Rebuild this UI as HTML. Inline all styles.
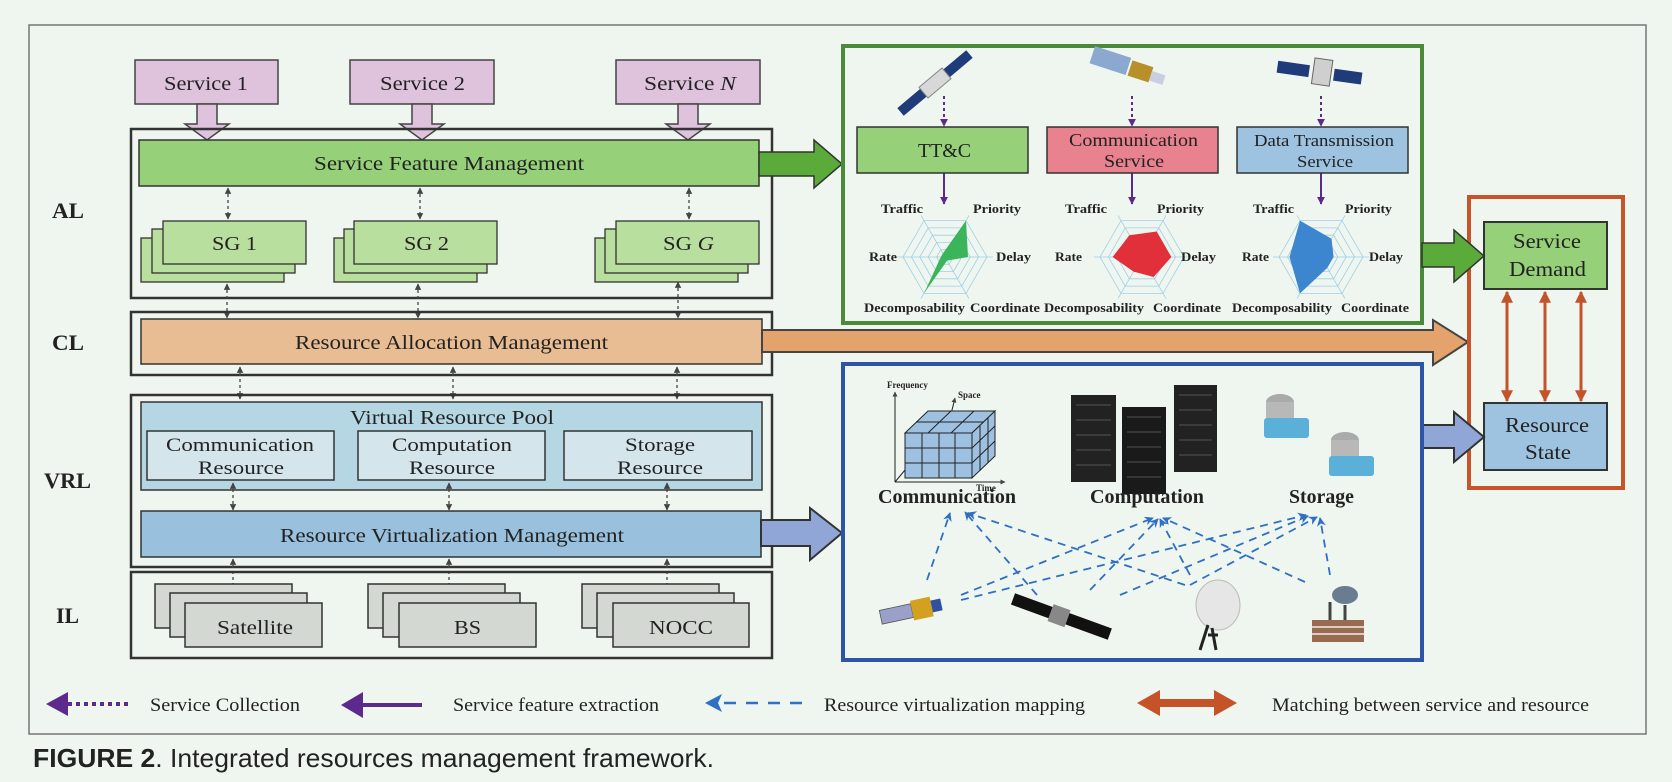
<!DOCTYPE html>
<html><head><meta charset="utf-8"><style>
html,body{margin:0;padding:0;background:#eff6ef;}
svg{display:block;}
text{font-family:"Liberation Serif",serif;fill:#222;}
.b{font-weight:bold;}
</style></head><body>
<svg width="1672" height="782" viewBox="0 0 1672 782" xmlns="http://www.w3.org/2000/svg">
<defs>
<marker id="dg" viewBox="0 0 10 10" refX="9" refY="5" markerWidth="5" markerHeight="5" orient="auto-start-reverse"><path d="M0,0L10,5L0,10z" fill="#444"/></marker>
<marker id="pu" viewBox="0 0 10 10" refX="9" refY="5" markerWidth="4" markerHeight="4" orient="auto"><path d="M0,0L10,5L0,10z" fill="#5b2a8c"/></marker>
<marker id="bl" viewBox="0 0 10 10" refX="9" refY="5" markerWidth="5" markerHeight="5" orient="auto"><path d="M0,0L10,5L0,10L3,5z" fill="#2f6fc4"/></marker>
<marker id="or" viewBox="0 0 10 10" refX="9" refY="5" markerWidth="4" markerHeight="5" orient="auto-start-reverse"><path d="M0,0L10,5L0,10z" fill="#c4532a"/></marker>
</defs>
<rect x="0" y="0" width="1672" height="782" fill="#eff6ef"/>
<rect x="29" y="25" width="1617" height="709" fill="none" stroke="#777" stroke-width="1.5"/>

<!-- layer labels -->
<text class="b" x="52" y="218" font-size="22" textLength="32" lengthAdjust="spacingAndGlyphs">AL</text>
<text class="b" x="52" y="350" font-size="22" textLength="32" lengthAdjust="spacingAndGlyphs">CL</text>
<text class="b" x="44" y="488" font-size="22" textLength="47" lengthAdjust="spacingAndGlyphs">VRL</text>
<text class="b" x="56" y="623" font-size="22" textLength="23" lengthAdjust="spacingAndGlyphs">IL</text>

<!-- services -->
<g stroke="#444" stroke-width="1.5" fill="#dfc2dc">
<rect x="135" y="60" width="143" height="44"/>
<rect x="350" y="60" width="144" height="44"/>
<rect x="616" y="60" width="144" height="44"/>
<polygon points="197,104 217,104 217,124 229,124 207,140 185,124 197,124"/>
<polygon points="412,104 432,104 432,124 444,124 422,140 400,124 412,124"/>
<polygon points="678,104 698,104 698,124 710,124 688,140 666,124 678,124"/>
</g>
<text x="164" y="90" font-size="20" textLength="84" lengthAdjust="spacingAndGlyphs">Service 1</text>
<text x="380" y="90" font-size="20" textLength="85" lengthAdjust="spacingAndGlyphs">Service 2</text>
<text x="644" y="90" font-size="20" textLength="92" lengthAdjust="spacingAndGlyphs">Service <tspan font-style="italic">N</tspan></text>

<!-- AL -->
<rect x="131" y="129" width="641" height="169" fill="none" stroke="#333" stroke-width="2.5"/>
<rect x="139" y="140" width="620" height="46" fill="#96d17a" stroke="#333" stroke-width="1.5"/>
<text x="314" y="170" font-size="20" textLength="270" lengthAdjust="spacingAndGlyphs">Service Feature Management</text>
<polygon points="759,152 814,152 814,140 842,164 814,188 814,176 759,176" fill="#5aab3a" stroke="#333" stroke-width="1.5"/>
<g stroke="#444" stroke-width="1.3" stroke-dasharray="3,3" marker-start="url(#dg)" marker-end="url(#dg)">
<line x1="228" y1="188" x2="228" y2="219"/><line x1="420" y1="188" x2="420" y2="219"/><line x1="689" y1="188" x2="689" y2="219"/>
</g>
<g stroke="#333" stroke-width="1.3" fill="#b9df9f">
<rect x="141" y="238" width="143" height="44"/><rect x="152" y="229" width="143" height="44"/><rect x="163" y="221" width="143" height="43"/>
<rect x="334" y="238" width="143" height="44"/><rect x="344" y="229" width="143" height="44"/><rect x="354" y="221" width="143" height="43"/>
<rect x="595" y="238" width="143" height="44"/><rect x="605" y="229" width="143" height="44"/><rect x="616" y="221" width="143" height="43"/>
</g>
<text x="212" y="250" font-size="20" textLength="45" lengthAdjust="spacingAndGlyphs">SG 1</text>
<text x="404" y="250" font-size="20" textLength="45" lengthAdjust="spacingAndGlyphs">SG 2</text>
<text x="663" y="250" font-size="20" textLength="51" lengthAdjust="spacingAndGlyphs">SG <tspan font-style="italic">G</tspan></text>
<g stroke="#444" stroke-width="1.3" stroke-dasharray="3,3" marker-start="url(#dg)" marker-end="url(#dg)">
<line x1="227" y1="284" x2="227" y2="318"/><line x1="418" y1="284" x2="418" y2="318"/><line x1="678" y1="282" x2="678" y2="318"/>
</g>

<!-- CL -->
<rect x="131" y="312" width="641" height="63" fill="none" stroke="#333" stroke-width="2.5"/>
<rect x="141" y="319" width="621" height="45" fill="#e8bd94" stroke="#333" stroke-width="1.5"/>
<text x="295" y="349" font-size="20" textLength="313" lengthAdjust="spacingAndGlyphs">Resource Allocation Management</text>
<polygon points="762,330 1433,330 1433,320 1468,342 1433,365 1433,352 762,352" fill="#e4a36c" stroke="#444" stroke-width="2"/>
<g stroke="#444" stroke-width="1.3" stroke-dasharray="3,3" marker-start="url(#dg)" marker-end="url(#dg)">
<line x1="240" y1="367" x2="240" y2="399"/><line x1="453" y1="367" x2="453" y2="399"/><line x1="677" y1="367" x2="677" y2="399"/>
</g>

<!-- VRL -->
<rect x="131" y="395" width="641" height="172" fill="none" stroke="#333" stroke-width="2.5"/>
<rect x="141" y="402" width="621" height="88" fill="#b5d6e3" stroke="#333" stroke-width="1.5"/>
<text x="350" y="424" font-size="20" textLength="204" lengthAdjust="spacingAndGlyphs">Virtual Resource Pool</text>
<g fill="#d4e6ec" stroke="#333" stroke-width="1.5">
<rect x="147" y="431" width="187" height="49"/><rect x="358" y="431" width="187" height="49"/><rect x="564" y="431" width="188" height="49"/>
</g>
<g font-size="19">
<text x="166" y="451" textLength="148" lengthAdjust="spacingAndGlyphs">Communication</text>
<text x="198" y="474" textLength="86" lengthAdjust="spacingAndGlyphs">Resource</text>
<text x="392" y="451" textLength="120" lengthAdjust="spacingAndGlyphs">Computation</text>
<text x="409" y="474" textLength="86" lengthAdjust="spacingAndGlyphs">Resource</text>
<text x="625" y="451" textLength="70" lengthAdjust="spacingAndGlyphs">Storage</text>
<text x="617" y="474" textLength="86" lengthAdjust="spacingAndGlyphs">Resource</text>
</g>
<g stroke="#444" stroke-width="1.3" stroke-dasharray="3,3" marker-start="url(#dg)" marker-end="url(#dg)">
<line x1="233" y1="483" x2="233" y2="510"/><line x1="449" y1="483" x2="449" y2="510"/><line x1="667" y1="483" x2="667" y2="510"/>
</g>
<rect x="141" y="511" width="620" height="46" fill="#99c0dd" stroke="#333" stroke-width="1.5"/>
<text x="280" y="542" font-size="20" textLength="344" lengthAdjust="spacingAndGlyphs">Resource Virtualization Management</text>
<polygon points="761,520 810,520 810,508 842,533 810,560 810,546 761,546" fill="#8fa6d6" stroke="#333" stroke-width="2"/>
<g stroke="#444" stroke-width="1.3" stroke-dasharray="3,3" marker-start="url(#dg)" marker-end="url(#dg)">
<line x1="233" y1="559" x2="233" y2="592"/><line x1="449" y1="559" x2="449" y2="592"/><line x1="667" y1="559" x2="667" y2="592"/>
</g>

<!-- IL -->
<rect x="131" y="572" width="641" height="86" fill="none" stroke="#333" stroke-width="2.5"/>
<g fill="#d3d8d3" stroke="#333" stroke-width="1.5">
<rect x="155" y="584" width="137" height="44"/><rect x="170" y="593" width="137" height="44"/><rect x="185" y="603" width="137" height="44"/>
<rect x="368" y="584" width="137" height="44"/><rect x="383" y="593" width="137" height="44"/><rect x="399" y="603" width="137" height="44"/>
<rect x="582" y="584" width="137" height="44"/><rect x="597" y="593" width="137" height="44"/><rect x="613" y="603" width="136" height="44"/>
</g>
<text x="217" y="634" font-size="20" textLength="76" lengthAdjust="spacingAndGlyphs">Satellite</text>
<text x="454" y="634" font-size="20" textLength="27" lengthAdjust="spacingAndGlyphs">BS</text>
<text x="649" y="634" font-size="20" textLength="64" lengthAdjust="spacingAndGlyphs">NOCC</text>

<!-- green panel -->
<rect x="843" y="46" width="579" height="277" fill="none" stroke="#4a8a3a" stroke-width="4"/>
<!-- satellites -->
<g>
<g transform="translate(935,83) rotate(-40)"><rect x="-45" y="-5" width="30" height="10" fill="#1f3b7a"/><rect x="15" y="-5" width="30" height="10" fill="#1f3b7a"/><rect x="-15" y="-7" width="30" height="14" fill="#d8d8d8" stroke="#888"/></g>
<g transform="translate(1130,68) rotate(18)"><rect x="-40" y="-10" width="38" height="18" fill="#8aa8d0"/><rect x="0" y="-8" width="22" height="16" fill="#b8902a"/><rect x="22" y="-4" width="14" height="10" fill="#c8cfe0"/></g>
<g transform="translate(1322,73) rotate(8)"><rect x="-45" y="-6" width="32" height="12" fill="#1f3b7a"/><rect x="12" y="-6" width="28" height="12" fill="#1f3b7a"/><rect x="-9" y="-14" width="18" height="26" fill="#cfcfcf" stroke="#666"/></g>
</g>
<g stroke="#5b2a8c" stroke-width="2" fill="none">
<line x1="944" y1="96" x2="944" y2="126" stroke-dasharray="3,3" marker-end="url(#pu)"/>
<line x1="1132" y1="96" x2="1132" y2="126" stroke-dasharray="3,3" marker-end="url(#pu)"/>
<line x1="1321" y1="96" x2="1321" y2="126" stroke-dasharray="3,3" marker-end="url(#pu)"/>
<line x1="944" y1="173" x2="944" y2="204" marker-end="url(#pu)"/>
<line x1="1132" y1="173" x2="1132" y2="204" marker-end="url(#pu)"/>
<line x1="1321" y1="173" x2="1321" y2="204" marker-end="url(#pu)"/>
</g>
<rect x="857" y="127" width="171" height="46" fill="#96d17a" stroke="#333" stroke-width="1.5"/>
<rect x="1047" y="127" width="171" height="46" fill="#e8828e" stroke="#333" stroke-width="1.5"/>
<rect x="1237" y="127" width="171" height="46" fill="#9dc3e0" stroke="#333" stroke-width="1.5"/>
<text x="918" y="157" font-size="20" textLength="53" lengthAdjust="spacingAndGlyphs">TT&amp;C</text>
<text x="1069" y="146" font-size="18" textLength="129" lengthAdjust="spacingAndGlyphs">Communication</text>
<text x="1104" y="167" font-size="18" textLength="60" lengthAdjust="spacingAndGlyphs">Service</text>
<text x="1254" y="146" font-size="17" textLength="140" lengthAdjust="spacingAndGlyphs">Data Transmission</text>
<text x="1297" y="167" font-size="17" textLength="56" lengthAdjust="spacingAndGlyphs">Service</text>

<!-- radars -->
<g id="r1" transform="translate(945,257)">
<g fill="none" stroke="#9fcfe8" stroke-width="0.8">
<polygon points="42,0 21,-36.4 -21,-36.4 -42,0 -21,36.4 21,36.4"/>
<polygon points="33.6,0 16.8,-29.1 -16.8,-29.1 -33.6,0 -16.8,29.1 16.8,29.1"/>
<polygon points="25.2,0 12.6,-21.8 -12.6,-21.8 -25.2,0 -12.6,21.8 12.6,21.8"/>
<polygon points="16.8,0 8.4,-14.6 -8.4,-14.6 -16.8,0 -8.4,14.6 8.4,14.6"/>
<polygon points="8.4,0 4.2,-7.3 -4.2,-7.3 -8.4,0 -4.2,7.3 4.2,7.3"/>
<path d="M-48,0H48M-24,-41.6L24,41.6M24,-41.6L-24,41.6"/>
</g>
</g>
<polygon transform="translate(945,257)" points="23,0 21,-36.4 -2.1,-3.6 -4.2,0 -21,36.4 2.1,3.6" fill="#3cb55a"/>
<use href="#r1" transform="translate(197,0)"/>
<polygon transform="translate(1142,257)" points="29.4,0 14.7,-25.5 -12.6,-21.8 -29.4,0 -8.4,14.6 11.6,20" fill="#e1303a"/>
<use href="#r1" transform="translate(376,0)"/>
<polygon transform="translate(1321,257)" points="12.6,0 10.5,-18.2 -21,-36.4 -31.5,0 -21,36.4 6.3,10.9" fill="#3b86cf"/>
<g class="b" font-size="12.5">
<text class="b" x="881" y="213" textLength="42" lengthAdjust="spacingAndGlyphs">Traffic</text>
<text class="b" x="973" y="213" textLength="48" lengthAdjust="spacingAndGlyphs">Priority</text>
<text class="b" x="869" y="261" textLength="28" lengthAdjust="spacingAndGlyphs">Rate</text>
<text class="b" x="996" y="261" textLength="35" lengthAdjust="spacingAndGlyphs">Delay</text>
<text class="b" x="864" y="312" textLength="101" lengthAdjust="spacingAndGlyphs">Decomposability</text>
<text class="b" x="970" y="312" textLength="70" lengthAdjust="spacingAndGlyphs">Coordinate</text>
<text class="b" x="1065" y="213" textLength="42" lengthAdjust="spacingAndGlyphs">Traffic</text>
<text class="b" x="1157" y="213" textLength="47" lengthAdjust="spacingAndGlyphs">Priority</text>
<text class="b" x="1055" y="261" textLength="27" lengthAdjust="spacingAndGlyphs">Rate</text>
<text class="b" x="1181" y="261" textLength="35" lengthAdjust="spacingAndGlyphs">Delay</text>
<text class="b" x="1044" y="312" textLength="100" lengthAdjust="spacingAndGlyphs">Decomposability</text>
<text class="b" x="1153" y="312" textLength="68" lengthAdjust="spacingAndGlyphs">Coordinate</text>
<text class="b" x="1253" y="213" textLength="41" lengthAdjust="spacingAndGlyphs">Traffic</text>
<text class="b" x="1345" y="213" textLength="47" lengthAdjust="spacingAndGlyphs">Priority</text>
<text class="b" x="1242" y="261" textLength="27" lengthAdjust="spacingAndGlyphs">Rate</text>
<text class="b" x="1369" y="261" textLength="34" lengthAdjust="spacingAndGlyphs">Delay</text>
<text class="b" x="1232" y="312" textLength="100" lengthAdjust="spacingAndGlyphs">Decomposability</text>
<text class="b" x="1341" y="312" textLength="68" lengthAdjust="spacingAndGlyphs">Coordinate</text>
</g>

<!-- right orange box -->
<rect x="1469" y="197" width="154" height="291" fill="none" stroke="#c8552a" stroke-width="4"/>
<rect x="1484" y="222" width="123" height="67" fill="#96d17a" stroke="#333" stroke-width="2"/>
<text x="1513" y="248" font-size="21" textLength="68" lengthAdjust="spacingAndGlyphs">Service</text>
<text x="1509" y="276" font-size="21" textLength="77" lengthAdjust="spacingAndGlyphs">Demand</text>
<rect x="1484" y="403" width="123" height="67" fill="#9dc3e0" stroke="#333" stroke-width="2"/>
<text x="1505" y="432" font-size="21" textLength="84" lengthAdjust="spacingAndGlyphs">Resource</text>
<text x="1525" y="459" font-size="21" textLength="46" lengthAdjust="spacingAndGlyphs">State</text>
<g stroke="#c4532a" stroke-width="3" marker-start="url(#or)" marker-end="url(#or)">
<line x1="1507" y1="292" x2="1507" y2="401"/><line x1="1545" y1="292" x2="1545" y2="401"/><line x1="1581" y1="292" x2="1581" y2="401"/>
</g>
<polygon points="1422,243 1454,243 1454,230 1484,256 1454,282 1454,267 1422,267" fill="#5aab3a" stroke="#333" stroke-width="1.5"/>
<polygon points="1422,425 1454,425 1454,412 1484,437 1454,462 1454,448 1422,448" fill="#8fa6d6" stroke="#333" stroke-width="2"/>

<!-- blue panel -->
<rect x="843" y="364" width="579" height="296" fill="none" stroke="#2e55a5" stroke-width="4"/>
<!-- cube -->
<g stroke="#222" stroke-width="1" fill="none">
<line x1="895" y1="482" x2="895" y2="392" marker-end="url(#dg)"/>
<line x1="895" y1="482" x2="1005" y2="482" marker-end="url(#dg)"/>
<line x1="895" y1="482" x2="905" y2="470"/>
<line x1="950" y1="418" x2="955" y2="398" marker-end="url(#dg)"/>
</g>
<g stroke="#222" stroke-width="1" fill="#9ec1e2">
<polygon points="905,433 928,411 995,411 972,433"/>
<polygon points="972,433 995,411 995,456 972,478"/>
<rect x="905" y="433" width="67" height="45"/>
<path d="M922,433V478M939,433V478M955,433V478M905,448H972M905,463H972M928,433l23,-22M951,433l23,-22M916,422H983M980,426v45M988,418v45M972,448l23,-22M972,463l23,-22" fill="none"/>
</g>
<text class="b" x="887" y="388" font-size="9">Frequency</text>
<text class="b" x="958" y="398" font-size="9">Space</text>
<text class="b" x="976" y="491" font-size="9">Time</text>
<!-- servers -->
<g>
<rect x="1071" y="395" width="45" height="87" fill="#222"/>
<rect x="1122" y="407" width="44" height="87" fill="#1a1a1a"/>
<rect x="1174" y="385" width="43" height="87" fill="#222"/>
<g stroke="#666" stroke-width="0.8"><path d="M1076,405h35M1076,420h35M1076,435h35M1076,450h35M1076,465h35M1127,417h34M1127,432h34M1127,447h34M1127,462h34M1127,477h34M1179,395h33M1179,410h33M1179,425h33M1179,440h33M1179,455h33"/></g>
</g>
<!-- storage -->
<g>
<ellipse cx="1280" cy="402" rx="14" ry="8" fill="#aaa"/><rect x="1266" y="402" width="28" height="20" fill="#b8b8b8"/>
<rect x="1264" y="418" width="45" height="20" fill="#5ab0d8" rx="3"/>
<ellipse cx="1345" cy="440" rx="14" ry="8" fill="#aaa"/><rect x="1331" y="440" width="28" height="20" fill="#b8b8b8"/>
<rect x="1329" y="456" width="45" height="20" fill="#5ab0d8" rx="3"/>
</g>
<text class="b" x="878" y="503" font-size="20" textLength="138" lengthAdjust="spacingAndGlyphs">Communication</text>
<text class="b" x="1090" y="503" font-size="20" textLength="114" lengthAdjust="spacingAndGlyphs">Computation</text>
<text class="b" x="1289" y="503" font-size="20" textLength="65" lengthAdjust="spacingAndGlyphs">Storage</text>
<!-- dashed mapping -->
<g stroke="#2f6fc4" stroke-width="1.8" stroke-dasharray="8,6" fill="none" marker-end="url(#bl)">
<line x1="927" y1="580" x2="950" y2="513"/>
<line x1="961" y1="595" x2="1153" y2="518"/>
<line x1="961" y1="600" x2="1306" y2="515"/>
<line x1="1037" y1="595" x2="965" y2="512"/>
<line x1="1090" y1="590" x2="1158" y2="519"/>
<line x1="1120" y1="595" x2="1308" y2="516"/>
<line x1="1185" y1="585" x2="968" y2="513"/>
<line x1="1190" y1="585" x2="1317" y2="517"/>
<line x1="1305" y1="582" x2="1163" y2="518"/>
<line x1="1330" y1="575" x2="1320" y2="518"/>
<line x1="1190" y1="575" x2="1160" y2="519"/>
</g>
<!-- ground icons -->
<g>
<g transform="translate(915,610) rotate(-12)"><rect x="-35" y="-7" width="32" height="14" fill="#9aa0c8" stroke="#555" stroke-width="0.8"/><rect x="-3" y="-10" width="20" height="20" fill="#d4a020"/><rect x="17" y="-6" width="10" height="12" fill="#3050a0"/></g>
<g transform="translate(1060,616) rotate(20)"><rect x="-50" y="-6" width="40" height="12" fill="#111"/><rect x="-10" y="-9" width="18" height="18" fill="#888"/><rect x="8" y="-6" width="45" height="12" fill="#111"/></g>
<ellipse cx="1218" cy="605" rx="22" ry="25" fill="#e6e6e6" stroke="#bbb"/><path d="M1208,625l-8,25M1212,628l4,22M1208,635h10" stroke="#222" stroke-width="3"/>
<rect x="1312" y="620" width="52" height="22" fill="#9a6a50"/><path d="M1312,627h52M1312,634h52" stroke="#eee" stroke-width="1.5"/>
<ellipse cx="1345" cy="595" rx="13" ry="9" fill="#6a7c90"/><path d="M1330,620v-18M1345,620v-15" stroke="#444" stroke-width="3"/>
</g>

<!-- legend -->
<line x1="128" y1="704" x2="60" y2="704" stroke="#5b2a8c" stroke-width="4" stroke-dasharray="4,4"/>
<polygon points="46,704 68,692 68,716" fill="#5b2a8c"/>
<text x="150" y="711" font-size="19" textLength="150" lengthAdjust="spacingAndGlyphs">Service Collection</text>
<line x1="422" y1="705" x2="360" y2="705" stroke="#5b2a8c" stroke-width="4"/>
<polygon points="341,705 363,692 363,718" fill="#5b2a8c"/>
<text x="453" y="711" font-size="19" textLength="206" lengthAdjust="spacingAndGlyphs">Service feature extraction</text>
<line x1="802" y1="703" x2="718" y2="703" stroke="#2f6fc4" stroke-width="2.5" stroke-dasharray="12,10"/>
<polygon points="705,703 722,694 718,703 722,712" fill="#2f6fc4"/>
<text x="824" y="711" font-size="19" textLength="261" lengthAdjust="spacingAndGlyphs">Resource virtualization mapping</text>
<polygon points="1137,703 1160,690 1160,699 1214,699 1214,690 1237,703 1214,716 1214,707 1160,707 1160,716" fill="#c4532a"/>
<text x="1272" y="711" font-size="19" textLength="317" lengthAdjust="spacingAndGlyphs">Matching between service and resource</text>

<!-- caption -->
<text x="33" y="767" font-size="26" style="font-family:'Liberation Sans',sans-serif" textLength="681" lengthAdjust="spacingAndGlyphs"><tspan font-weight="bold">FIGURE 2</tspan>. Integrated resources management framework.</text>
</svg>
</body></html>
